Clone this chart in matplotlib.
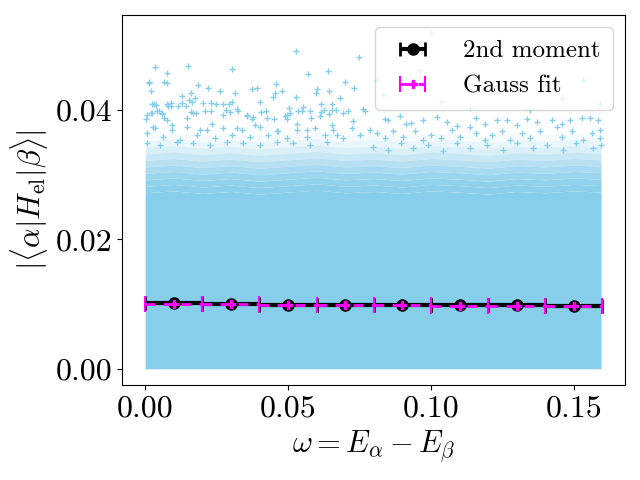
import numpy as np
import matplotlib
matplotlib.use("Agg")
import matplotlib.pyplot as plt

plt.rcParams['font.family'] = 'serif'
plt.rcParams['font.serif'] = ['cmr10']
plt.rcParams['mathtext.fontset'] = 'cm'
plt.rcParams['axes.formatter.use_mathtext'] = True

# binned averages
omega_bins = [0.01, 0.03, 0.05, 0.07, 0.09, 0.11, 0.13, 0.15]
bin_halfwidth = [0.01] * 8
moment2 = [0.0101, 0.0100, 0.0099, 0.0099, 0.0099, 0.0098, 0.0098, 0.0097]
gauss_fit = [0.0100, 0.0100, 0.0099, 0.0098, 0.0098, 0.0097, 0.0097, 0.0097]

# dense part of the cloud: upper edge of the solid band
band_x = [0.0, 0.01, 0.02, 0.03, 0.04, 0.05, 0.06, 0.07, 0.08, 0.09, 0.10,
          0.11, 0.12, 0.13, 0.14, 0.15, 0.1595]
band_top = [0.0272, 0.0275, 0.0271, 0.0274, 0.0270, 0.0273, 0.0276, 0.0272, 0.0274,
            0.0271, 0.0275, 0.0273, 0.0270, 0.0274, 0.0272, 0.0275, 0.0273]

# sparse points
pts_x = [0.0527, 0.0748, 0.0036, 0.0151, 0.0305, 0.0078, 0.0571, 0.0641, 0.0012, 0.0015,
         0.0067, 0.0078, 0.0186, 0.0700, 0.0459, 0.0022, 0.0221, 0.0263, 0.0375, 0.0393,
         0.0456, 0.0480, 0.0316, 0.0162, 0.0597, 0.0602, 0.0643, 0.0732, 0.0130, 0.0529,
         0.0449, 0.0683, 0.0176, 0.0023, 0.0031, 0.0037, 0.0077, 0.0092, 0.0079, 0.0090,
         0.0155, 0.0163, 0.0115, 0.0128, 0.0202, 0.0231, 0.0248, 0.0272, 0.0295, 0.0305,
         0.0403, 0.0616, 0.0655, 0.0762, 0.0769, 0.0006, 0.0003, 0.0021, 0.0041, 0.0050,
         0.0058, 0.0065, 0.0143, 0.0162, 0.0177, 0.0211, 0.0232, 0.0282, 0.0296, 0.0321,
         0.0324, 0.0358, 0.0379, 0.0375, 0.0407, 0.0423, 0.0452, 0.0490, 0.0495, 0.0503,
         0.0507, 0.0536, 0.0550, 0.0553, 0.0578, 0.0581, 0.0615, 0.0627, 0.0644, 0.0655,
         0.0669, 0.0692, 0.0711, 0.0726,
         0.0839, 0.0851, 0.0892, 0.0913, 0.0932, 0.0973, 0.1020, 0.1055, 0.1092, 0.1136,
         0.1157, 0.1189, 0.1230, 0.1265, 0.1300, 0.1335, 0.1370, 0.1422, 0.1457, 0.1486,
         0.1527, 0.1556, 0.1585, 0.1591,
         0.0810, 0.0839, 0.0868, 0.0903, 0.0944, 0.0973, 0.1002, 0.1037, 0.1072, 0.1101,
         0.1159, 0.1189, 0.1212, 0.1247, 0.1276, 0.1317, 0.1346, 0.1381, 0.1440, 0.1457,
         0.1492, 0.1533, 0.1562, 0.1591,
         0.0006, 0.0035, 0.0064, 0.0093, 0.0122, 0.0146, 0.0181, 0.0216, 0.0245, 0.0274,
         0.0303, 0.0338, 0.0367, 0.0402, 0.0431, 0.0466, 0.0495, 0.0530, 0.0565, 0.0594,
         0.0629, 0.0658, 0.0693, 0.0723, 0.0752, 0.0787,
         0.1002, 0.0810, 0.0833, 0.1037, 0.1457, 0.1533, 0.1591, 0.1346, 0.1136, 0.0962,
         0.0023, 0.0058, 0.0076, 0.0029, 0.0093, 0.0146, 0.0169, 0.0192, 0.0233, 0.0274,
         0.0321, 0.0356, 0.0385, 0.0426, 0.0460, 0.0495, 0.0530, 0.0565, 0.0612, 0.0653,
         0.0670,
         0.0006, 0.0052, 0.0111, 0.0169, 0.0227, 0.0286, 0.0344, 0.0402, 0.0460, 0.0519,
         0.0577, 0.0635,
         0.0798, 0.0851, 0.0897, 0.0938, 0.0991, 0.1043, 0.1090, 0.1136, 0.1195, 0.1253,
         0.1300, 0.1358, 0.1405, 0.1463, 0.1509, 0.1567, 0.1594]
pts_y = [0.0491, 0.0482, 0.0466, 0.0468, 0.0464, 0.0457, 0.0455, 0.0461, 0.0444, 0.0441,
         0.0443, 0.0441, 0.0438, 0.0443, 0.0440, 0.0429, 0.0434, 0.0430, 0.0432, 0.0434,
         0.0427, 0.0429, 0.0426, 0.0426, 0.0427, 0.0433, 0.0429, 0.0434, 0.0421, 0.0420,
         0.0420, 0.0418, 0.0418, 0.0410, 0.0409, 0.0407, 0.0410, 0.0411, 0.0406, 0.0406,
         0.0415, 0.0412, 0.0406, 0.0411, 0.0411, 0.0411, 0.0410, 0.0410, 0.0410, 0.0413,
         0.0412, 0.0410, 0.0410, 0.0401, 0.0399, 0.0392, 0.0386, 0.0395, 0.0398, 0.0398,
         0.0394, 0.0387, 0.0406, 0.0397, 0.0396, 0.0398, 0.0398, 0.0400, 0.0397, 0.0401,
         0.0398, 0.0392, 0.0389, 0.0386, 0.0397, 0.0398, 0.0386, 0.0390, 0.0386, 0.0403,
         0.0396, 0.0399, 0.0398, 0.0404, 0.0398, 0.0387, 0.0397, 0.0400, 0.0394, 0.0400,
         0.0400, 0.0396, 0.0398, 0.0383,
         0.0386, 0.0385, 0.0390, 0.0379, 0.0380, 0.0385, 0.0389, 0.0382, 0.0375, 0.0374,
         0.0387, 0.0379, 0.0385, 0.0385, 0.0377, 0.0386, 0.0382, 0.0385, 0.0379, 0.0385,
         0.0387, 0.0387, 0.0385, 0.0369,
         0.0364, 0.0356, 0.0367, 0.0359, 0.0367, 0.0354, 0.0361, 0.0356, 0.0369, 0.0359,
         0.0365, 0.0354, 0.0361, 0.0367, 0.0354, 0.0364, 0.0356, 0.0367, 0.0374, 0.0359,
         0.0367, 0.0354, 0.0364, 0.0356,
         0.0364, 0.0372, 0.0359, 0.0369, 0.0354, 0.0374, 0.0361, 0.0369, 0.0356, 0.0372,
         0.0361, 0.0369, 0.0359, 0.0373, 0.0361, 0.0367, 0.0356, 0.0369, 0.0359, 0.0372,
         0.0361, 0.0369, 0.0356, 0.0372, 0.0361, 0.0369,
         0.0519, 0.0446, 0.0423, 0.0413, 0.0418, 0.0446, 0.0410, 0.0400, 0.0403, 0.0462,
         0.0395, 0.0396, 0.0385, 0.0374, 0.0377, 0.0387, 0.0395, 0.0369, 0.0379, 0.0392,
         0.0372, 0.0390, 0.0377, 0.0387, 0.0367, 0.0392, 0.0379, 0.0369, 0.0390, 0.0377,
         0.0361,
         0.0349, 0.0346, 0.0351, 0.0349, 0.0346, 0.0351, 0.0349, 0.0346, 0.0351, 0.0349,
         0.0346, 0.0351,
         0.0343, 0.0338, 0.0349, 0.0341, 0.0346, 0.0336, 0.0349, 0.0341, 0.0346, 0.0338,
         0.0349, 0.0341, 0.0346, 0.0338, 0.0349, 0.0341, 0.0346]

# how the speckled fringe above the solid band thins out
fringe_step = 0.001
fringe_alpha = [0.95, 0.9, 0.82, 0.72, 0.6, 0.45, 0.3, 0.18, 0.08]

cloud = 'skyblue'

fig, ax = plt.subplots(figsize=(6.4, 4.8), dpi=100)
fig.subplots_adjust(left=0.191, right=0.977, top=0.969, bottom=0.198)

# solid band and the fading speckled edge above it
top = np.array(band_top)
ax.fill_between(band_x, 0, top, color=cloud, lw=0, zorder=1)
for i, a in enumerate(fringe_alpha):
    ax.fill_between(band_x, top + i * fringe_step, top + (i + 1) * fringe_step,
                    color=cloud, alpha=a, lw=0, zorder=1)
ax.scatter(pts_x, pts_y, marker='+', s=14, linewidths=1, color=cloud, zorder=1)

ax.errorbar(omega_bins, moment2, xerr=bin_halfwidth, fmt='o', color='black',
            ms=8, elinewidth=3, capsize=5, capthick=2,
            label='2nd moment', zorder=3)
eb = ax.errorbar(omega_bins, gauss_fit, xerr=bin_halfwidth, fmt='P', color='magenta',
                 ms=5.5, elinewidth=2, capsize=6, capthick=1.5,
                 label='Gauss fit', zorder=4)
eb[2][0].set_linestyle((0, (3.5, 3)))

ax.set_xlim(-0.008, 0.168)
ax.set_ylim(-0.0025, 0.0547)
ax.set_xticks([0.0, 0.05, 0.10, 0.15])
ax.set_yticks([0.0, 0.02, 0.04])
ax.xaxis.set_major_formatter(matplotlib.ticker.FormatStrFormatter('%.2f'))
ax.yaxis.set_major_formatter(matplotlib.ticker.FormatStrFormatter('%.2f'))
ax.tick_params(labelsize=23)
ax.set_xlabel(r'$\omega = E_\alpha - E_\beta$', fontsize=22)
ax.set_ylabel(r'$|\langle\alpha|H_{\rm el}|\beta\rangle|$', fontsize=22)
ax.legend(loc='upper right', fontsize=18, handletextpad=1.0, borderpad=0.5)

plt.savefig('out.png')
